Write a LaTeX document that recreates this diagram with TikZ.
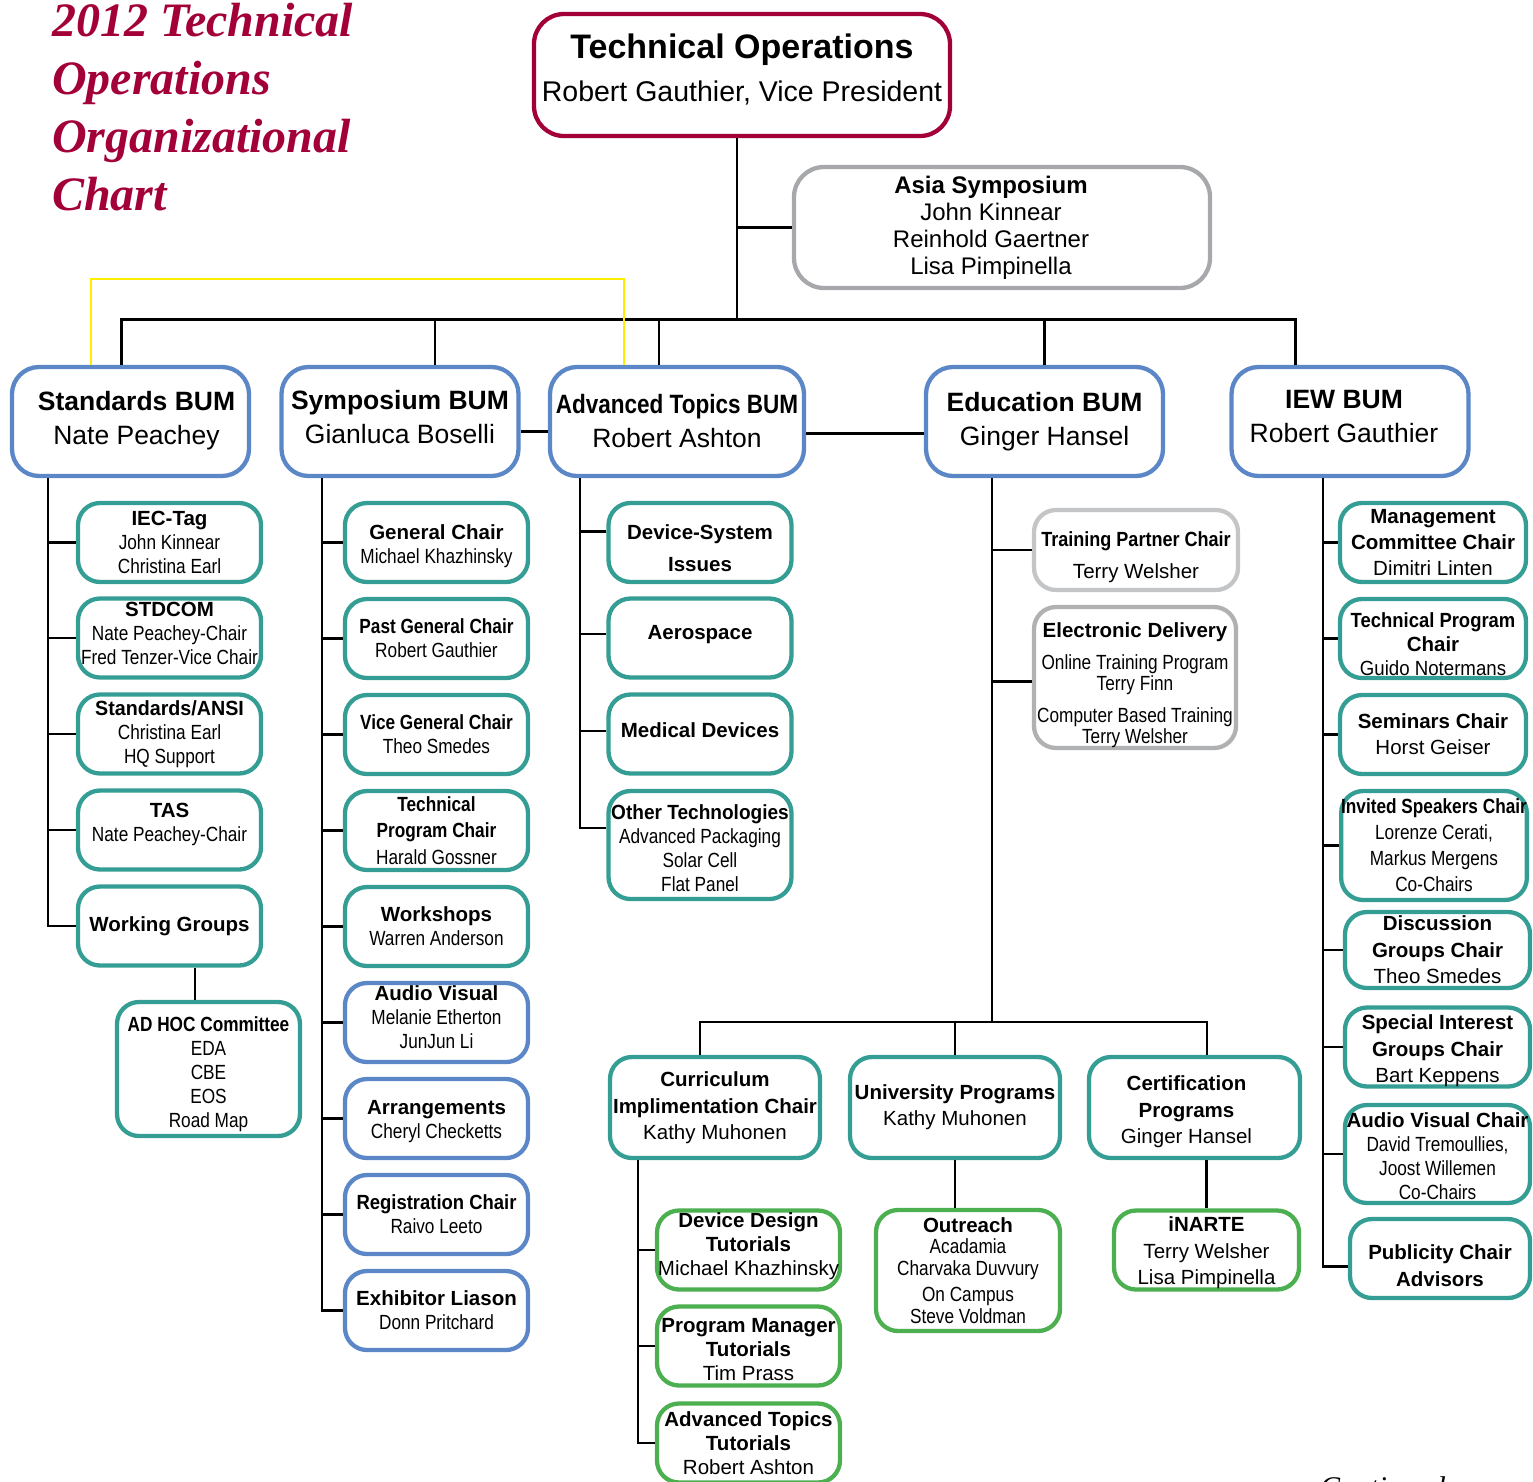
\documentclass[tikz,border=0pt]{standalone}
\usepackage{fontspec}
\usepackage{graphicx}
\setmainfont{Liberation Sans}
\newfontfamily\narrowfont[FakeStretch=0.84]{Liberation Sans}
\newfontfamily\titlefont{Liberation Serif}

\definecolor{crimson}{RGB}{163,0,58}
\definecolor{bumblue}{RGB}{91,135,199}
\definecolor{boxteal}{RGB}{53,158,148}
\definecolor{boxgreen}{RGB}{76,175,80}
\definecolor{asiagray}{RGB}{166,168,171}
\definecolor{palegray}{RGB}{196,197,199}
\definecolor{midgray}{RGB}{176,177,179}
\definecolor{lineyellow}{RGB}{255,236,0}

\newcommand\nr[1]{{\narrowfont #1}}
\newcommand\hn[1]{{\narrowfont\bfseries #1}}
\newcommand\sq[2]{\scalebox{#1}[1]{#2}}
% lowers (tp) or raises (up) the text of a box by about #1
\newcommand\tp[1]{\rule{0pt}{\dimexpr0.75em+#1pt*2\relax}}
\newcommand\up[1]{\rule[\dimexpr-#1pt*2\relax]{0pt}{1pt}}
% shifts a line to the left by half of #1
\newcommand\rs[1]{\rule{#1}{0pt}}

\tikzset{
  box/.style={draw, fill=white, rounded corners=22pt, line width=4.3pt, align=center, inner sep=0pt,
    minimum width=183pt, minimum height=79pt, font=\fontsize{20.5}{24}\selectfont},
  tealbox/.style={box, draw=boxteal},
  bluebox/.style={box, draw=bumblue},
  greenbox/.style={box, draw=boxgreen},
  graybox/.style={box, draw=palegray},
  bum/.style={box, draw=bumblue, rounded corners=27pt, minimum width=237pt, minimum height=109pt,
    font=\fontsize{26.5}{34}\selectfont},
  link/.style={line width=2.3pt},
  busline/.style={line width=3pt},
  yel/.style={draw=lineyellow, line width=2pt}
}

\begin{document}
\begin{tikzpicture}[x=1pt, y=-1pt]
\useasboundingbox (0,0) rectangle (1533,1481);
\clip (0,0) rectangle (1533,1481);

% title
\node[anchor=north west, inner sep=0pt, align=left, text=crimson,
  font=\titlefont\bfseries\itshape\fontsize{48}{58}\selectfont] (title) at (52,3)
  {2012 Technical\\Operations\\Organizational\\Chart};

% top
\node[box, draw=crimson, rounded corners=30pt, minimum width=416pt, minimum height=122pt,
  font=\fontsize{28.5}{43}\selectfont] (top) at (742,75)
  {{\fontsize{34}{43}\selectfont\bfseries Technical Operations}\\Robert Gauthier, Vice President\up{7}};
\node[box, draw=asiagray, rounded corners=30pt, minimum width=416pt, minimum height=121pt,
  font=\fontsize{24}{27}\selectfont] (asia) at (1002,227.5)
  {\textbf{Asia Symposium}\rs{22pt}\\John Kinnear\rs{22pt}\\Reinhold Gaertner\rs{22pt}\\Lisa Pimpinella\rs{22pt}};

% BUMs
\node[bum] (stdbum) at (130.5,421.5) {\rs{12pt}\textbf{Standards BUM}\\\rs{12pt}Nate Peachey\up{4}};
\node[bum] (symbum) at (400,421.5) {\textbf{Symposium BUM}\\Gianluca Boselli\up{5}};
\node[bum, minimum width=254pt] (advbum) at (677,421.5) {\sq{0.85}{\textbf{Advanced Topics BUM}}\\Robert Ashton};
\node[bum] (edubum) at (1044.5,421.5) {\textbf{Education BUM}\\Ginger Hansel};
\node[bum] (iewbum) at (1350,421.5) {\textbf{IEW BUM}\rs{12pt}\\Robert Gauthier\rs{12pt}\up{5}};

% standards
\node[tealbox] (iec) at (169.5,542.5) {\textbf{IEC-Tag}\\\nr{John Kinnear}\\\nr{Christina Earl}};
\node[tealbox] (stdcom) at (169.5,638) {\textbf{STDCOM}\\\nr{Nate Peachey-Chair}\\\nr{Fred Tenzer-Vice Chair}\up{5}};
\node[tealbox] (ansi) at (169.5,734) {\sq{0.96}{\textbf{Standards/ANSI}}\\\nr{Christina Earl}\\\nr{HQ Support}};
\node[tealbox] (tas) at (169.5,830) {\textbf{TAS}\\\nr{Nate Peachey-Chair}\up{8}};
\node[tealbox] (wg) at (169.5,926) {\textbf{Working Groups}};
\node[tealbox, minimum height=134pt] (adhoc) at (208.5,1069)
  {\tp{5}\hn{AD HOC Committee}\\\nr{EDA}\\\nr{CBE}\\\nr{EOS}\\\nr{Road Map}};

% symposium
\node[tealbox] (gc) at (436.5,542.5) {\tp{3}\textbf{General Chair}\\\nr{Michael Khazhinsky}};
\node[tealbox] (pgc) at (436.5,638.5) {\hn{Past General Chair}\\\nr{Robert Gauthier}};
\node[tealbox] (vgc) at (436.5,734.5) {\hn{Vice General Chair}\\\nr{Theo Smedes}};
\node[tealbox] (tpc) at (436.5,830.5) {\hn{Technical}\\[2.5pt]\hn{Program Chair}\\[2.5pt]\nr{Harald Gossner}};
\node[tealbox] (ws) at (436.5,926.5) {\textbf{Workshops}\\\nr{Warren Anderson}};
\node[bluebox] (av) at (436.5,1022.5) {\textbf{Audio Visual}\\\nr{Melanie Etherton}\\\nr{JunJun Li}\up{5}};
\node[bluebox] (arr) at (436.5,1118.5) {\tp{2}\textbf{Arrangements}\\\nr{Cheryl Checketts}};
\node[bluebox] (reg) at (436.5,1214.5) {\sq{0.9}{\textbf{Registration Chair}}\\\nr{Raivo Leeto}};
\node[bluebox] (exh) at (436.5,1310.5) {\textbf{Exhibitor Liason}\\\nr{Donn Pritchard}};

% advanced topics
\node[tealbox] (dsi) at (700,542.5) {\tp{5}\textbf{Device-System}\\[8pt]\textbf{Issues}};
\node[tealbox] (aero) at (700,638) {\textbf{Aerospace}\up{6}};
\node[tealbox] (med) at (700,734) {\textbf{Medical Devices}\up{4}};
\node[tealbox, minimum height=108pt] (oth) at (700,845)
  {\tp{3}\sq{0.93}{\textbf{Other Technologies}}\\\nr{Advanced Packaging}\\\nr{Solar Cell}\\\nr{Flat Panel}};

% education
\node[graybox, minimum width=204pt, minimum height=80pt] (train) at (1136,550)
  {\tp{7}\sq{0.88}{\textbf{Training Partner Chair}}\\[8pt]Terry Welsher};
\node[box, draw=midgray, minimum width=202pt, minimum height=141pt] (edel) at (1135,677.5)
  {\tp{7}\textbf{Electronic Delivery}\\[8pt]\nr{Online Training Program}\\[-3pt]\nr{Terry Finn}\\[8pt]%
   \nr{Computer Based Training}\\[-3pt]\nr{Terry Welsher}};
\node[tealbox, minimum width=210pt, minimum height=101pt] (curr) at (715,1107.5)
  {\textbf{Curriculum}\\[3pt]\textbf{Implimentation Chair}\\[2pt]Kathy Muhonen};
\node[tealbox, minimum width=210pt, minimum height=101pt] (univ) at (955,1107.5)
  {\textbf{University Programs}\\[2pt]Kathy Muhonen};
\node[tealbox, minimum width=211pt, minimum height=101pt] (cert) at (1194.5,1107.5)
  {\tp{4}\textbf{Certification}\rs{16pt}\\[3pt]\textbf{Programs}\rs{16pt}\\[2pt]Ginger Hansel\rs{16pt}};
\node[greenbox] (ddt) at (748.5,1250) {\textbf{Device Design}\\\textbf{Tutorials}\\Michael Khazhinsky\up{6}};
\node[greenbox] (pmt) at (748.5,1346) {\tp{3}\textbf{Program Manager}\\\textbf{Tutorials}\\Tim Prass};
\node[greenbox] (att) at (748.5,1443) {\textbf{Advanced Topics}\\\textbf{Tutorials}\\Robert Ashton};
\node[greenbox, minimum width=184pt, minimum height=121pt] (outr) at (968,1270.5)
  {\textbf{Outreach}\\[-3pt]\nr{Acadamia}\\[-2pt]\nr{Charvaka Duvvury}\\[2pt]\nr{On Campus}\\[-2pt]\nr{Steve Voldman}};
\node[greenbox, minimum width=185pt] (inarte) at (1206.5,1250)
  {\tp{2}\textbf{iNARTE}\\[3pt]Terry Welsher\\[2pt]Lisa Pimpinella};

% IEW
\node[tealbox, minimum width=186pt] (mgmt) at (1433,542.5)
  {\textbf{Management}\\[2pt]\textbf{Committee Chair}\\[2pt]Dimitri Linten};
\node[tealbox, minimum width=186pt] (tpcw) at (1433,638.5)
  {\tp{5}\sq{0.9}{\textbf{Technical Program}}\\\textbf{Chair}\\\sq{0.91}{Guido Notermans}};
\node[tealbox, minimum width=186pt] (sem) at (1433,734.5) {\textbf{Seminars Chair}\\[2pt]Horst Geiser};
\node[tealbox, minimum width=184pt, minimum height=109pt] (inv) at (1434,845.5)
  {\hn{Invited Speakers Chair}\\[2pt]\nr{Lorenze Cerati,}\\[2pt]\nr{Markus Mergens}\\[2pt]\nr{Co-Chairs}};
\node[tealbox, minimum width=185pt, minimum height=76pt] (disc) at (1437.5,950)
  {\textbf{Discussion}\\[3pt]\textbf{Groups Chair}\\[2pt]Theo Smedes};
\node[tealbox, minimum width=185pt] (sig) at (1437.5,1047)
  {\tp{3}\textbf{Special Interest}\\[3pt]\textbf{Groups Chair}\\[2pt]Bart Keppens};
\node[tealbox, minimum width=185pt, minimum height=98pt] (avc) at (1437.5,1154)
  {\tp{2}\textbf{Audio Visual Chair}\\\nr{David Tremoullies,}\\\nr{Joost Willemen}\\\nr{Co-Chairs}};
\node[tealbox, minimum width=180pt] (pub) at (1440,1258.5) {\tp{7}\textbf{Publicity Chair}\\[3pt]\textbf{Advisors}};

\node[anchor=base west, inner sep=0pt, font=\titlefont\itshape\fontsize{30}{36}\selectfont] (cont) at (1320,1497) {Continued};

% top connectors
\coordinate (bus) at (737,319);
\draw[link] ([xshift=-5pt]top.south) -- ([xshift=-5pt]top.south |- bus);
\draw[link] (asia.west) -- (asia.west -| bus);
\draw[busline] ([xshift=-9.5pt]stdbum.north) -- ([xshift=-9.5pt]stdbum.north |- bus)
  -- ([xshift=-55pt]iewbum.north |- bus) -- ([xshift=-55pt]iewbum.north);
\foreach \n/\s in {symbum/35pt, advbum/-18pt, edubum/0pt}
  \draw[link] ([xshift=\s]\n.north) -- ([xshift=\s]\n.north |- bus);
\draw[yel] ([xshift=-40pt]stdbum.north) -- ++(0,-86) -| ([xshift=-53pt]advbum.north);
\draw[link] ([yshift=-10pt]symbum.east) -- ([yshift=-10pt]advbum.west);
\draw[link] ([yshift=-12pt]advbum.east) -- ([yshift=-12pt]edubum.west);

% standards column
\coordinate (stdcol) at ([xshift=-82.5pt]stdbum.south);
\draw[link] (stdcol) |- (wg.west);
\foreach \n in {iec,stdcom,ansi,tas}
  \draw[link] (\n.west) -- (\n.west -| stdcol);
\draw[link] ([xshift=25.5pt]wg.south) -- ([xshift=25.5pt]wg.south |- adhoc.north);

% symposium column
\coordinate (symcol) at ([xshift=-78pt]symbum.south);
\draw[link] (symcol) |- (exh.west);
\foreach \n in {gc,pgc,vgc,tpc,ws,av,arr,reg}
  \draw[link] (\n.west) -- (\n.west -| symcol);

% advanced topics column
\coordinate (advcol) at ([xshift=-97pt]advbum.south);
\draw[link] (advcol) |- ([yshift=17pt]oth.west);
\foreach \n/\s in {dsi/11pt, aero/4pt, med/3pt}
  \draw[link] ([yshift=\s]\n.west) -- ([yshift=\s]\n.west -| advcol);

% education column
\coordinate (educol) at ([xshift=-52.5pt]edubum.south);
\coordinate (ebus) at ([yshift=33pt]univ.north);
\draw[link] (educol) -- (educol |- ebus);
\draw[link] (train.west) -- (train.west -| educol);
\draw[link] ([yshift=-4pt]edel.west) -- ([yshift=-4pt]edel.west -| educol);
\draw[link] ([xshift=-15pt]curr.north) |- ([xshift=12.5pt]cert.north |- ebus) -- ([xshift=12.5pt]cert.north);
\draw[link] (univ.north) -- (ebus);
\coordinate (curcol) at ([xshift=30pt]curr.south west);
\draw[link] (curcol) |- (att.west);
\foreach \n in {ddt,pmt}
  \draw[link] (\n.west) -- (\n.west -| curcol);
\draw[link] (univ.south) -- (univ.south |- outr.north);
\draw[link] (inarte.north) -- (inarte.north |- cert.south);

% IEW column
\coordinate (iewcol) at ([xshift=-27pt]iewbum.south);
\draw[link] (iewcol) |- ([yshift=-8pt]pub.west);
\foreach \n in {mgmt,tpcw,sem,inv,disc,sig,avc}
  \draw[link] (\n.west) -- (\n.west -| iewcol);
\end{tikzpicture}
\end{document}
